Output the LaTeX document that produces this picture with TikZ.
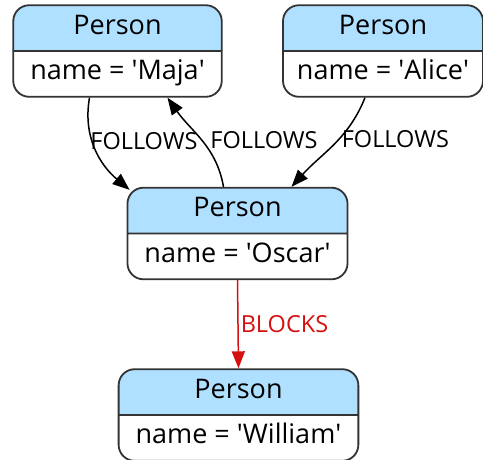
\documentclass[tikz,border=0pt]{standalone}
\usepackage{fontspec}
\setmainfont{Open Sans}
\usetikzlibrary{shapes.multipart,arrows.meta}

\definecolor{headblue}{RGB}{176,224,255}
\definecolor{boxline}{RGB}{51,51,51}
\definecolor{blockred}{RGB}{214,16,16}

\tikzset{
	person/.style={rectangle split, rectangle split parts=2, draw=boxline, line width=1.8pt,
		rounded corners=16pt, rectangle split part fill={headblue,white},
		inner xsep=17pt, inner ysep=7pt, font=\fontsize{27}{30}\selectfont},
	follows/.style={draw=black, line width=1.5pt, -{Triangle[length=17pt,width=13pt]}},
	blocks/.style={draw=blockred, line width=1.5pt, -{Triangle[length=17pt,width=13pt]}},
	lbl/.style={font=\fontsize{23.5}{26}\selectfont, inner sep=2pt}
}
\newcommand{\personpart}[1]{\strut Person\nodepart{two}\strut name = \textquotesingle#1\textquotesingle}

\begin{document}
\begin{tikzpicture}[x=1pt,y=1pt]
	\useasboundingbox (0,0) rectangle (483,-459);
	% people
		\node[person] (maja) at (117.5,-51) {\personpart{Maja}};
		\node[person, inner xsep=14pt] (alice) at (383,-51) {\personpart{Alice}};
		\node[person] (oscar) at (237.5,-233.5) {\personpart{Oscar}};
		\node[person] (william) at (238.5,-415) {\personpart{William}};
	% follows
		\draw[follows] ([xshift=-28pt]maja.south) to[out=-100,in=140] node[lbl,pos=0.42,right,xshift=-5pt] {FOLLOWS} ([shift={(3,-3)}]oscar.north west);
		\draw[follows] ([xshift=-14pt]oscar.north) to[out=100,in=-55] node[lbl,pos=0.5,right,xshift=6pt] {FOLLOWS} ([xshift=50pt]maja.south);
		\draw[follows] ([xshift=-18pt]alice.south) to[out=-112,in=48] node[lbl,pos=0.42,right] {FOLLOWS} ([xshift=54pt]oscar.north);
	% blocks
		\draw[blocks] (oscar.south) -- node[lbl,right,text=blockred] {BLOCKS} (william.north);
\end{tikzpicture}
\end{document}
